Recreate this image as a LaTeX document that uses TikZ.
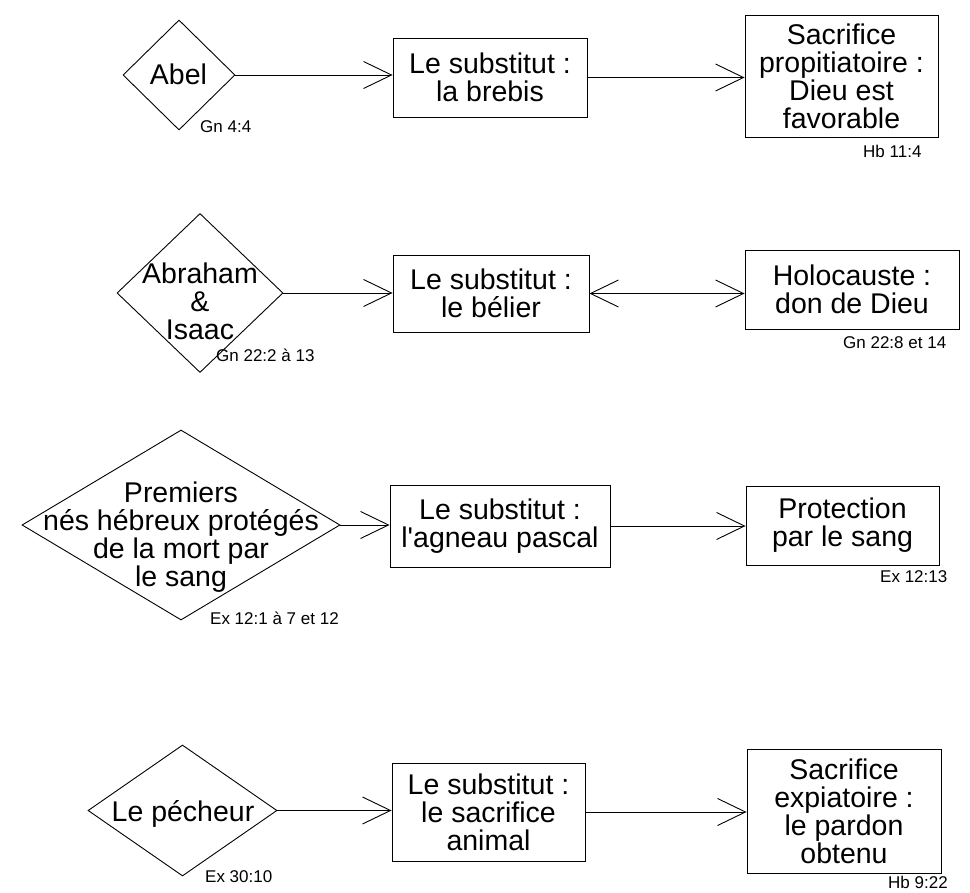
\documentclass[tikz,border=0pt]{standalone}
\usepackage{fontspec}
\setmainfont{Liberation Sans}
\usetikzlibrary{shapes.geometric,arrows.meta}
\begin{document}
\begin{tikzpicture}[x=1pt,y=-1pt,
  box/.style={draw,line width=0.9pt,rectangle,inner sep=0pt,align=center,font=\fontsize{28.5}{28}\selectfont},
  dia/.style={draw,line width=0.9pt,diamond,inner sep=0pt},
  txt/.style={inner sep=0pt,align=center,font=\fontsize{28.5}{28}\selectfont},
  ref/.style={inner sep=0pt,anchor=west,font=\fontsize{17}{17}\selectfont},
  arr/.style={line width=0.9pt,-{Straight Barb[length=28pt,width=27pt,line width=0.9pt]}},
  arrb/.style={line width=0.9pt,{Straight Barb[length=28pt,width=27pt,line width=0.9pt]}-{Straight Barb[length=28pt,width=27pt,line width=0.9pt]}},
]
\path[fill=white,use as bounding box] (0,0) rectangle (970,893);

% row 1
\node[dia,minimum width=112pt,minimum height=110pt] (d1) at (179,75) {};
\node[txt] (d1t) at (178.5,74.5) {Abel};
\node[box,minimum width=194pt,minimum height=79pt] (b11) at (490,77.5) {Le substitut :\\la brebis};
\node[box,minimum width=193pt,minimum height=122pt] (b12) at (841.5,76) {Sacrifice\\propitiatoire :\\Dieu est\\favorable};
\node[ref] (l1) at (200,127) {Gn 4:4};
\node[ref] (l2) at (863,151) {Hb 11:4};
\draw[arr] (d1.east) -- (d1.east -| b11.west);
\draw[arr] (b11.east) -- (b11.east -| b12.west);

% row 2
\node[dia,minimum width=166pt,minimum height=159pt] (d2) at (200,293) {};
\node[txt] (d2t) at (200,301) {Abraham\\\&\\Isaac};
\node[box,minimum width=196pt,minimum height=77pt] (b21) at (491,293.5) {Le substitut :\\le bélier};
\node[box,minimum width=214pt,minimum height=79pt] (b22) at (852,289.5) {Holocauste :\\don de Dieu};
\node[ref] (l3) at (216,355) {Gn 22:2 à 13};
\node[ref] (l4) at (843,343) {Gn 22:8 et 14};
\draw[arr] (d2.east) -- (d2.east -| b21.west);
\draw[arrb] (b21.east) -- (b21.east -| b22.west);

% row 3
\node[dia,minimum width=318pt,minimum height=190pt] (d3) at (181,525) {};
\node[txt] (d3t) at (181,537) {Premiers\\nés hébreux protégés\\de la mort par\\le sang};
\node[box,minimum width=220pt,minimum height=82pt] (b31) at (500,526) {Le substitut :\\l\textquotesingle agneau pascal};
\node[box,minimum width=193pt,minimum height=79pt] (b32) at (842.5,525.5) {Protection\\par le sang};
\node[ref] (l5) at (210,618) {Ex 12:1 à 7 et 12};
\node[ref] (l6) at (880,577) {Ex 12:13};
\draw[arr] (d3.east) -- (d3.east -| b31.west);
\draw[arr] (b31.east) -- (b31.east -| b32.west);

% row 4
\node[dia,minimum width=189pt,minimum height=131pt] (d4) at (182.5,810.5) {};
\node[txt] (d4t) at (183,814) {Le pécheur};
\node[box,minimum width=193pt,minimum height=98pt] (b41) at (488.5,812) {Le substitut :\\le sacrifice\\animal};
\node[box,minimum width=194pt,minimum height=124pt] (b42) at (844,811) {Sacrifice\\expiatoire :\\le pardon\\obtenu};
\node[ref] (l7) at (205,877) {Ex 30:10};
\node[ref] (l8) at (888,882) {Hb 9:22};
\draw[arr] (d4.east) -- (d4.east -| b41.west);
\draw[arr] (b41.east) -- (b41.east -| b42.west);
\end{tikzpicture}
\end{document}
